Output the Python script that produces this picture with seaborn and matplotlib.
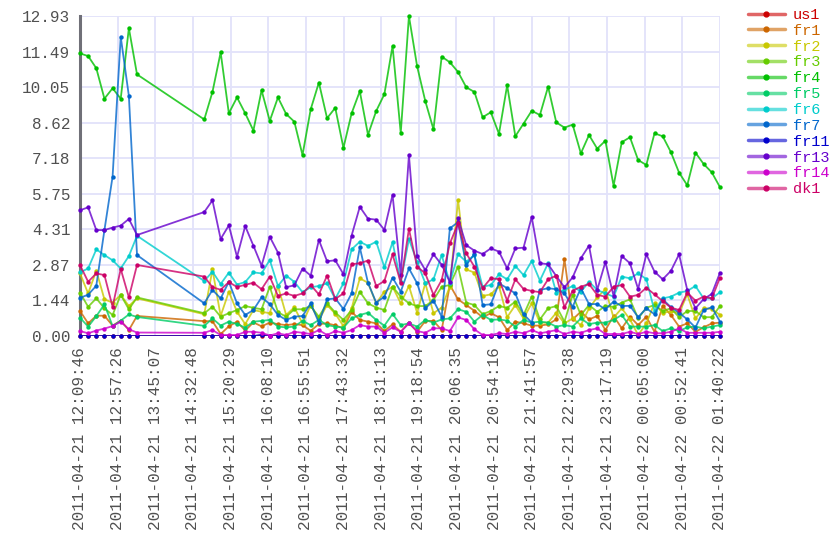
import numpy as np
import pandas as pd
import matplotlib
matplotlib.use("Agg")
import matplotlib.pyplot as plt
import matplotlib.dates as mdates
from matplotlib.lines import Line2D
from matplotlib.colors import to_rgba
import seaborn as sns

# ---------------- data ----------------
series_names = ["us1", "fr1", "fr2", "fr3", "fr4", "fr5", "fr6",
                "fr7", "fr11", "fr13", "fr14", "dk1"]
series_colors = ["#cc0000", "#cc6600", "#c8c800", "#66cc00", "#00c000", "#00cc66",
                 "#00cccc", "#0066cc", "#0000cc", "#6600cc", "#cc00cc", "#cc0066"]

x_tick_labels = [
    "2011-04-21 12:09:46", "2011-04-21 12:57:26", "2011-04-21 13:45:07",
    "2011-04-21 14:32:48", "2011-04-21 15:20:29", "2011-04-21 16:08:10",
    "2011-04-21 16:55:51", "2011-04-21 17:43:32", "2011-04-21 18:31:13",
    "2011-04-21 19:18:54", "2011-04-21 20:06:35", "2011-04-21 20:54:16",
    "2011-04-21 21:41:57", "2011-04-21 22:29:38", "2011-04-21 23:17:19",
    "2011-04-22 00:05:00", "2011-04-22 00:52:41", "2011-04-22 01:40:22"]
y_tick_labels = ["0.00", "1.44", "2.87", "4.31", "5.75", "7.18",
                 "8.62", "10.05", "11.49", "12.93"]
y_max = 12.93

# sample times: a first burst of 8 samples, a gap, then 64 regular samples
times_part1 = pd.date_range("2011-04-21 12:09:46", periods=8, freq="619s")
times_part2 = pd.date_range("2011-04-21 14:47:10", "2011-04-22 01:40:22", periods=64)
times = times_part1.append(times_part2)

us1 = [0.00, 0.00, 0.00, 0.00, 0.00, 0.00, 0.00, 0.00,
       0.00, 0.00, 0.00, 0.00, 0.00, 0.00, 0.00, 0.02,
       0.00, 0.00, 0.00, 0.00, 0.00, 0.00, 0.00, 0.00,
       0.00, 0.00, 0.00, 0.00, 0.00, 0.00, 0.00, 0.00,
       0.00, 0.00, 0.00, 0.00, 0.00, 0.00, 0.00, 0.00,
       0.00, 0.00, 0.00, 0.00, 0.00, 0.00, 0.00, 0.00,
       0.00, 0.00, 0.00, 0.00, 0.00, 0.00, 0.00, 0.00,
       0.00, 0.00, 0.00, 0.00, 0.00, 0.00, 0.00, 0.00,
       0.00, 0.00, 0.00, 0.00, 0.00, 0.00, 0.00, 0.00]
fr1 = [1.01, 0.51, 0.82, 0.82, 0.42, 0.62, 0.24, 0.81,
       0.60, 0.60, 0.08, 0.39, 0.58, 0.22, 0.55, 0.39,
       0.54, 0.48, 0.44, 0.48, 0.44, 0.21, 0.48, 0.51,
       0.43, 0.31, 0.98, 0.65, 0.58, 0.51, 0.20, 0.47,
       0.17, 0.54, 0.17, 0.61, 0.61, 0.24, 2.06, 1.48,
       1.25, 1.02, 0.76, 0.92, 0.76, 0.24, 0.58, 0.51,
       0.42, 0.42, 0.47, 0.67, 3.10, 0.67, 0.98, 0.67,
       0.81, 0.24, 0.81, 0.31, 0.78, 0.44, 0.78, 0.17,
       1.21, 0.85, 0.38, 0.51, 0.17, 0.35, 0.51, 0.54]
fr2 = [2.53, 1.72, 2.64, 1.48, 1.35, 1.66, 1.21, 1.52,
       0.88, 2.69, 0.81, 1.79, 0.98, 0.48, 1.05, 0.98,
       0.92, 2.02, 0.85, 1.16, 0.51, 1.25, 0.65, 1.25,
       0.90, 0.40, 1.12, 2.33, 2.15, 1.32, 1.79, 1.99,
       1.32, 2.02, 0.94, 2.13, 0.92, 1.15, 2.00, 5.50,
       2.69, 2.56, 1.62, 1.68, 2.02, 0.76, 1.25, 0.71,
       1.32, 0.54, 0.54, 0.94, 0.51, 0.71, 0.44, 1.12,
       1.56, 1.89, 0.74, 1.12, 0.67, 0.04, 0.51, 1.32,
       0.92, 1.01, 0.92, 1.68, 0.71, 1.12, 1.09, 0.85]
fr3 = [1.75, 1.18, 1.52, 1.12, 0.85, 1.66, 1.08, 1.56,
       0.92, 1.18, 0.78, 0.92, 1.05, 1.21, 1.14, 1.08,
       1.99, 0.96, 0.78, 1.08, 1.08, 1.21, 0.78, 1.32,
       0.95, 0.65, 1.05, 1.79, 1.32, 1.15, 1.05, 1.99,
       1.59, 1.32, 1.21, 1.21, 1.45, 1.99, 2.06, 2.80,
       1.35, 1.25, 0.88, 1.01, 1.21, 1.14, 1.39, 0.85,
       1.59, 0.67, 1.12, 1.21, 0.58, 1.66, 0.85, 1.25,
       0.98, 1.21, 1.18, 1.35, 1.48, 0.71, 1.14, 1.25,
       1.01, 1.12, 0.76, 1.01, 1.01, 0.76, 0.76, 1.21]
fr4 = [11.42, 11.31, 10.82, 9.59, 10.01, 9.59, 12.44, 10.57,
       8.75, 9.86, 11.46, 9.00, 9.64, 9.00, 8.30, 9.93,
       8.69, 9.64, 8.97, 8.66, 7.31, 9.16, 10.24, 8.80,
       9.22, 7.60, 9.00, 9.89, 8.13, 9.09, 9.77, 11.72,
       8.20, 12.93, 10.90, 9.49, 8.35, 11.29, 11.06, 10.67,
       10.05, 9.86, 8.84, 9.04, 8.17, 10.13, 8.07, 8.58,
       9.10, 8.93, 10.07, 8.63, 8.42, 8.54, 7.38, 8.12,
       7.57, 7.89, 6.07, 7.83, 8.03, 7.11, 6.91, 8.19,
       8.07, 7.43, 6.60, 6.09, 7.41, 6.95, 6.61, 6.01]
fr5 = [0.74, 0.38, 0.80, 1.28, 0.40, 0.62, 0.87, 0.77,
       0.41, 0.71, 0.42, 0.58, 0.48, 0.34, 0.58, 0.61,
       0.65, 0.38, 0.35, 0.38, 0.61, 0.44, 0.65, 0.44,
       0.38, 0.34, 0.71, 0.85, 0.94, 0.65, 0.42, 0.89,
       0.44, 0.51, 0.38, 0.65, 0.54, 0.67, 0.71, 1.08,
       0.98, 0.58, 0.85, 0.65, 0.67, 0.62, 0.38, 0.65,
       0.54, 0.58, 0.54, 0.38, 0.44, 0.38, 0.71, 0.48,
       0.54, 0.54, 0.65, 0.85, 0.38, 0.38, 0.38, 0.44,
       0.20, 0.31, 0.20, 0.35, 0.38, 0.31, 0.38, 0.44]
fr6 = [2.57, 2.73, 3.50, 3.27, 3.06, 2.73, 3.23, 4.05,
       2.22, 2.60, 2.10, 2.56, 2.08, 2.18, 2.57, 2.53,
       3.07, 2.02, 2.44, 2.19, 1.77, 1.97, 2.02, 2.13,
       1.50, 2.13, 3.50, 3.81, 3.64, 3.81, 2.78, 3.79,
       2.19, 3.91, 3.00, 2.13, 2.29, 3.27, 2.15, 3.31,
       3.00, 3.27, 1.99, 2.06, 2.49, 2.29, 2.83, 2.46,
       3.03, 2.24, 2.94, 1.75, 1.86, 2.02, 1.79, 2.19,
       1.86, 1.72, 1.59, 2.40, 2.33, 2.53, 2.30, 1.01,
       1.52, 1.59, 1.75, 1.82, 2.02, 1.52, 1.52, 1.77]
fr7 = [1.54, 1.67, 2.03, 4.28, 6.44, 12.09, 9.70, 3.27,
       1.32, 1.86, 1.52, 2.19, 1.32, 0.85, 1.05, 1.56,
       1.29, 0.85, 0.65, 0.78, 0.81, 1.32, 0.54, 1.48,
       1.52, 1.09, 1.72, 3.58, 2.15, 1.35, 1.59, 2.36,
       1.79, 2.73, 2.13, 1.12, 1.43, 0.78, 4.35, 4.60,
       2.87, 3.31, 1.25, 1.28, 2.13, 1.93, 1.72, 0.88,
       0.54, 1.86, 1.93, 1.89, 1.72, 1.18, 1.93, 1.29,
       1.29, 1.08, 1.39, 1.21, 1.22, 0.76, 1.12, 0.88,
       1.49, 1.16, 0.94, 0.67, 0.34, 1.05, 1.16, 0.58]
fr11 = [0.00, 0.00, 0.00, 0.00, 0.00, 0.00, 0.00, 0.00,
        0.00, 0.00, 0.00, 0.00, 0.00, 0.00, 0.00, 0.05,
        0.00, 0.00, 0.00, 0.00, 0.00, 0.00, 0.00, 0.00,
        0.00, 0.00, 0.00, 0.00, 0.00, 0.00, 0.00, 0.00,
        0.00, 0.00, 0.00, 0.00, 0.00, 0.00, 0.00, 0.00,
        0.00, 0.00, 0.00, 0.00, 0.00, 0.00, 0.00, 0.00,
        0.00, 0.00, 0.00, 0.00, 0.00, 0.00, 0.00, 0.00,
        0.00, 0.00, 0.00, 0.00, 0.00, 0.00, 0.00, 0.00,
        0.00, 0.00, 0.00, 0.00, 0.00, 0.00, 0.00, 0.00]
fr13 = [5.08, 5.20, 4.28, 4.28, 4.38, 4.46, 4.73, 4.08,
        5.01, 5.48, 3.92, 4.47, 3.20, 4.44, 3.65, 2.84,
        4.01, 3.37, 1.97, 2.05, 2.72, 2.44, 3.88, 3.02,
        3.06, 2.50, 4.06, 5.22, 4.74, 4.70, 4.29, 5.70,
        2.48, 7.31, 3.23, 2.66, 3.30, 2.88, 2.18, 4.75,
        3.67, 3.45, 3.31, 3.54, 3.41, 2.73, 3.54, 3.57,
        4.81, 2.94, 2.90, 2.42, 1.97, 2.37, 3.14, 3.65,
        1.86, 2.99, 1.62, 3.23, 2.94, 1.90, 3.30, 2.60,
        2.29, 2.63, 3.30, 1.86, 1.12, 1.49, 1.70, 2.56]
fr14 = [0.20, 0.11, 0.22, 0.30, 0.40, 0.58, 0.27, 0.14,
        0.13, 0.24, 0.04, 0.04, 0.04, 0.17, 0.17, 0.13,
        0.02, 0.11, 0.04, 0.17, 0.13, 0.08, 0.24, 0.04,
        0.20, 0.13, 0.24, 0.44, 0.38, 0.38, 0.13, 0.35,
        0.17, 0.51, 0.20, 0.13, 0.31, 0.31, 0.20, 0.75,
        0.65, 0.27, 0.04, 0.04, 0.11, 0.08, 0.17, 0.11,
        0.24, 0.11, 0.17, 0.24, 0.08, 0.17, 0.13, 0.24,
        0.31, 0.08, 0.08, 0.08, 0.17, 0.08, 0.17, 0.11,
        0.11, 0.17, 0.31, 0.13, 0.13, 0.13, 0.13, 0.17]
dk1 = [2.87, 2.19, 2.53, 2.46, 1.18, 2.71, 1.56, 2.87,
       2.40, 1.97, 1.87, 2.18, 1.98, 2.07, 2.15, 1.89,
       2.40, 1.62, 1.72, 1.62, 1.72, 2.06, 1.68, 2.44,
       1.50, 1.72, 2.90, 2.94, 3.05, 2.02, 2.22, 3.30,
       2.15, 4.32, 2.80, 2.53, 1.66, 2.26, 3.74, 4.55,
       3.34, 2.80, 1.93, 2.33, 2.30, 1.43, 2.29, 1.90,
       1.82, 1.77, 2.29, 2.44, 1.16, 1.83, 1.99, 2.10,
       1.66, 1.59, 1.99, 2.06, 1.59, 1.66, 1.95, 1.68,
       1.41, 1.15, 1.05, 1.75, 1.43, 1.59, 1.52, 2.36]

series_values = [us1, fr1, fr2, fr3, fr4, fr5, fr6, fr7, fr11, fr13, fr14, dk1]

# ---------------- figure ----------------
sns.set_theme(style="white")
plt.rcParams["font.family"] = ["Liberation Mono", "DejaVu Sans Mono"]

W, H = 840, 560
fig = plt.figure(figsize=(W / 100, H / 100), dpi=100)
fig.patch.set_facecolor("white")
ax = fig.add_axes([80 / W, 1 - 336 / H, 640 / W, 320 / H])

df = pd.concat(
    [pd.DataFrame({"time": mdates.date2num(times.to_pydatetime()),
                   "value": v, "series": n})
     for n, v in zip(series_names, series_values)],
    ignore_index=True)
palette = dict(zip(series_names, series_colors))

for i, name in enumerate(series_names):
    sub = df[df["series"] == name]
    sns.lineplot(data=sub, x="time", y="value", color=palette[name],
                 estimator=None, sort=False, linewidth=1.3, alpha=0.8,
                 legend=False, ax=ax, zorder=3 + i * 0.1)
    sns.scatterplot(data=sub, x="time", y="value", color=palette[name],
                    s=10, linewidth=0, legend=False, ax=ax,
                    zorder=3.05 + i * 0.1, clip_on=False)

t_start = mdates.date2num(times[0].to_pydatetime())
t_end = mdates.date2num(times[-1].to_pydatetime())
ax.set_xlim(t_start, t_end)
ax.set_ylim(0, y_max)
ax.set_xticks(np.linspace(t_start, t_end, len(x_tick_labels)))
ax.set_xticklabels(x_tick_labels, rotation=90)
ax.set_yticks(np.linspace(0, y_max, len(y_tick_labels)))
ax.set_yticklabels(y_tick_labels)
ax.set_xlabel("")
ax.set_ylabel("")

ax.set_axisbelow(True)
ax.grid(True, color="#e2e2fa", linewidth=1.3)
for s in ["top", "right", "bottom"]:
    ax.spines[s].set_visible(False)
ax.spines["left"].set_color("#707078")
ax.spines["left"].set_linewidth(2.2)
ax.spines["left"].set_zorder(2.5)

ax.tick_params(axis="y", length=0, pad=7, labelsize=11.5, labelcolor="#505050")
ax.tick_params(axis="x", length=6, width=1.3, color="#e2e2fa", pad=2,
               labelsize=11.5, labelcolor="#505050")

# legend
handles = []
for name, c in zip(series_names, series_colors):
    handles.append(Line2D([0], [0], color=to_rgba(c, 0.6), linewidth=2.5,
                          marker="o", markersize=3.5,
                          markerfacecolor=c, markeredgecolor=c))
leg = fig.legend(handles, series_names, loc="upper left",
                 bbox_to_anchor=(748 / W, 1 - 8 / H), frameon=False,
                 fontsize=11, handlelength=2.4, handletextpad=0.55,
                 labelspacing=0.12, borderaxespad=0, borderpad=0)
for txt, c in zip(leg.get_texts(), series_colors):
    txt.set_color(c)

fig.savefig("out.png", dpi=100, facecolor="white")
